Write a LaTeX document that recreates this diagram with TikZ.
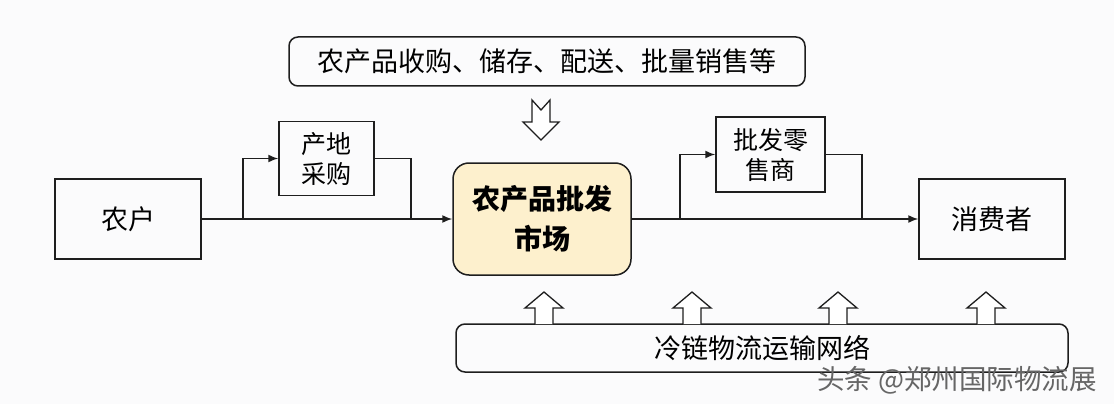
\documentclass[tikz,border=0pt]{standalone}
\usepackage{fontspec}
\setmainfont{Noto Sans CJK SC}
\usetikzlibrary{arrows.meta}
\definecolor{market}{RGB}{253,240,205}
\definecolor{bg}{RGB}{251,251,252}
\definecolor{ink}{RGB}{30,30,30}
\begin{document}
\begin{tikzpicture}[x=1pt,y=-1pt,
  line width=1.5pt,draw=ink,
  main node/.style={draw=ink,rectangle,align=center,inner sep=0pt,font=\fontsize{27}{34}\selectfont,minimum width=146pt,minimum height=80pt},
  small node/.style={draw=ink,rectangle,align=center,inner sep=0pt,font=\fontsize{25}{30}\selectfont,minimum height=74pt},
  market node/.style={draw=ink,rounded corners=16pt,fill=market,align=center,inner sep=0pt,font=\bfseries\fontsize{28}{40}\selectfont,minimum width=178pt,minimum height=112pt},
  bar node/.style={draw=ink,rounded corners=9pt,inner sep=0pt,font=\fontsize{27}{32}\selectfont,minimum height=49pt},
  hollow/.style={draw=ink,fill=white,line width=1.3pt,line join=miter},
  link/.style={draw=ink,-{Latex[length=10pt,width=8pt]}}]
  \fill[bg] (0,0) rectangle (1114,404);
  \node[main node] (1) at (128,219) {农户};
  \node[small node,minimum width=95pt] (2) at (326.5,158.5) {产地\\采购};
  \node[market node] (3) at (542,219) {农产品批发\\市场};
  \node[small node,minimum width=109pt,minimum height=75pt] (4) at (770.5,154.5) {批发零\\售商};
  \node[main node] (5) at (992,219) {消费者};
  \node[bar node,minimum width=516pt] (6) at (547,61.5) {农产品收购、储存、配送、批量销售等};
  \node[bar node,minimum width=612pt,minimum height=48pt] (7) at (762,348) {冷链物流运输网络};
  \coordinate (a) at (243,219);
  \coordinate (b) at (411,219);
  \coordinate (c) at (680,219);
  \coordinate (d) at (862,219);
  \draw[link] (1) -- (3);
  \draw[link] (a) |- (2);
  \draw (2) -| (b);
  \draw[link] (3) -- (5);
  \draw[link] (c) |- (4);
  \draw (4) -| (d);
  \draw[hollow] (532,100) -- (541,110) -- (550,100) -- (550,122) -- (559,122)
    -- (541,140) -- (523,122) -- (532,122) -- cycle;
  \foreach \x in {544,692,838,986}
    \draw[hollow] (\x-9,324) -- (\x-9,308) -- (\x-19,308) -- (\x,292)
      -- (\x+19,308) -- (\x+9,308) -- (\x+9,324);
  \node[font=\fontsize{27.5}{28}\selectfont,text=black!60,inner sep=0pt] (8) at (957,380) {头条 @郑州国际物流展};
\end{tikzpicture}
\end{document}
